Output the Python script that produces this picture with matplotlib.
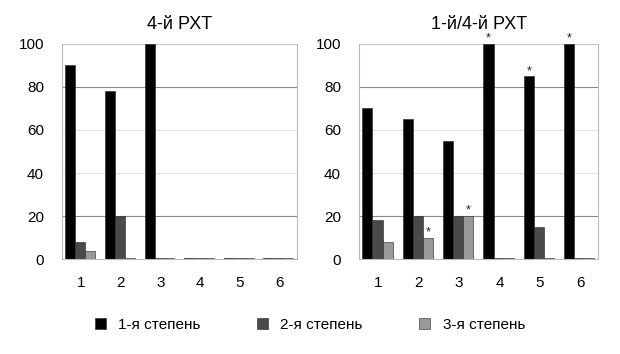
import numpy as np
import matplotlib
matplotlib.use("Agg")
import matplotlib.pyplot as plt

plt.rcParams["font.family"] = ["Liberation Sans", "DejaVu Sans"]

groups = ["1", "2", "3", "4", "5", "6"]
series_names = ["1-я степень", "2-я степень", "3-я степень"]
colors = ["#000000", "#4a4a4a", "#999999"]

# left panel: 4-й РХТ
left_deg1 = [90, 78, 100, 0, 0, 0]
left_deg2 = [8, 20, 0, 0, 0, 0]
left_deg3 = [4, 0, 0, 0, 0, 0]

# right panel: 1-й/4-й РХТ
right_deg1 = [70, 65, 55, 100, 85, 100]
right_deg2 = [18, 20, 20, 0, 15, 0]
right_deg3 = [8, 10, 20, 0, 0, 0]
# significance marks (series index, group index)
right_stars = [(2, 1), (2, 2), (0, 3), (0, 4), (0, 5)]

panels = [
    ("4-й РХТ", [left_deg1, left_deg2, left_deg3], []),
    ("1-й/4-й РХТ", [right_deg1, right_deg2, right_deg3], right_stars),
]

fig = plt.figure(figsize=(6.2, 3.54), dpi=100)
rects = [[0.100, 0.268, 0.379, 0.608], [0.579, 0.268, 0.386, 0.608]]

x = np.arange(len(groups))
w = 0.25
for rect, (title, data, stars) in zip(rects, panels):
    ax = fig.add_axes(rect)
    for gy, c in [(20, "#8a8a8a"), (40, "#e2e2e2"), (60, "#e2e2e2"),
                  (80, "#8a8a8a"), (100, "#c4c4c4")]:
        ax.axhline(gy, color=c, lw=0.8, zorder=0)
    for i, vals in enumerate(data):
        v = np.array(vals, dtype=float)
        ax.bar(x + (i - 1) * w - 0.02, np.maximum(v, 0.6), width=w,
               color=colors[i], edgecolor="#222222", linewidth=0.4,
               label=series_names[i], zorder=2)
    for si, gi in stars:
        ax.text(x[gi] + (si - 1) * w - 0.02, data[si][gi] + 1.0, "*",
                ha="center", va="baseline", fontsize=9, color="#222222")
    ax.set_xlim(-0.48, 5.45)
    ax.set_ylim(0, 100)
    ax.set_yticks([0, 20, 40, 60, 80, 100])
    ax.set_xticks(x)
    ax.set_xticklabels(groups)
    ax.tick_params(length=0, labelsize=11)
    ax.tick_params(axis="x", pad=12)
    ax.tick_params(axis="y", pad=13)
    for s in ["left", "right", "bottom"]:
        ax.spines[s].set_color("#bbbbbb")
        ax.spines[s].set_linewidth(0.8)
    ax.spines["top"].set_visible(False)
    ax.set_title(title, fontsize=13, pad=11)

handles, labels = ax.get_legend_handles_labels()
fig.legend(handles, labels, loc="center", bbox_to_anchor=(0.5, 0.082),
           ncol=3, frameon=False, fontsize=11, handlelength=0.72,
           handleheight=0.72, columnspacing=3.7, handletextpad=0.8)

fig.savefig("out.png", dpi=100)
